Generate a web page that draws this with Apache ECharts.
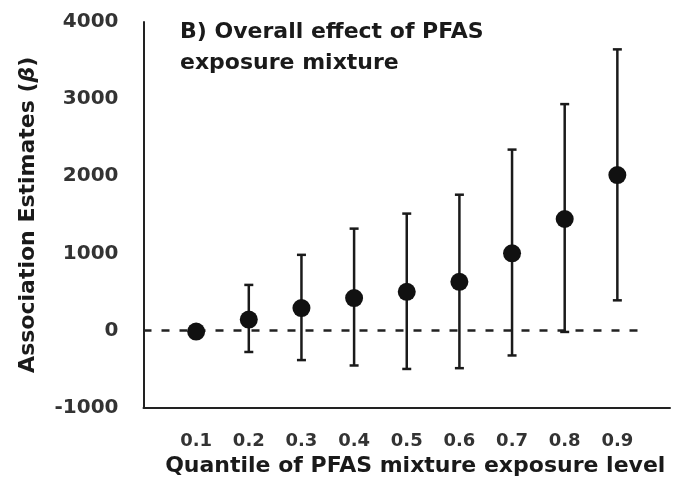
<!DOCTYPE html>
<html>
<head>
<meta charset="utf-8">
<script src="https://cdn.jsdelivr.net/npm/echarts@6/dist/echarts.min.js"></script>
<style>
html,body{margin:0;padding:0;background:#fff;}
#chart{width:675px;height:490px;}
</style>
</head>
<body>
<div id="chart"></div>
<script>
// Data
const quantiles = [0.1, 0.2, 0.3, 0.4, 0.5, 0.6, 0.7, 0.8, 0.9];
const estimates = [-15, 140, 290, 420, 500, 630, 1000, 1445, 2015];
const lowerCI   = [null, -280, -385, -455, -500, -490, -325, -20, 390];
const upperCI   = [null, 590, 980, 1320, 1515, 1760, 2345, 2935, 3645];
const yTicks = [-1000, 0, 1000, 2000, 3000, 4000];
const refLineX = [0, 0.95];
const refLineY = 0;

const FONT = 'DejaVu Sans';
const chart = echarts.init(document.getElementById('chart'), null, {renderer: 'canvas'});

const pointData = quantiles.map((q, i) => [q, estimates[i]]);
const errData = quantiles.map((q, i) => [q, lowerCI[i], upperCI[i]])
  .filter(d => d[1] !== null && d[2] !== null);

const titleStyle = {fontFamily: FONT, fontWeight: 'bold', fontSize: 22, color: '#1a1a1a'};

chart.setOption({
  animation: false,
  backgroundColor: '#fff',
  grid: {left: 143.5, right: 5, top: 22, bottom: 82.5, containLabel: false},
  graphic: [{
    type: 'text', left: 180, top: 17,
    style: {
      text: 'B) Overall effect of PFAS\nexposure mixture',
      font: 'bold 22px "' + FONT + '"',
      fill: '#1a1a1a', lineHeight: 31
    }
  }],
  xAxis: {
    type: 'value', min: 0, max: 1, interval: 0.1,
    name: 'Quantile of PFAS mixture exposure level',
    nameLocation: 'middle', nameGap: 46,
    nameTextStyle: Object.assign({padding: [0, 0, 0, 17]}, titleStyle),
    axisLine: {show: true, onZero: false, lineStyle: {color: '#222', width: 2}},
    axisTick: {show: false},
    splitLine: {show: false},
    axisLabel: {
      margin: 25, fontFamily: FONT, fontWeight: 'bold', fontSize: 18, color: '#333',
      formatter: v => {
        const r = Math.round(v * 10) / 10;
        return quantiles.indexOf(r) >= 0 ? r.toFixed(1) : '';
      }
    }
  },
  yAxis: {
    type: 'value', min: yTicks[0], max: yTicks[yTicks.length - 1], interval: 1000,
    name: 'Association Estimates ({b|\u03B2})',
    nameLocation: 'middle', nameGap: 104, nameRotate: 90,
    nameTextStyle: Object.assign({
      rich: {b: Object.assign({fontStyle: 'italic'}, titleStyle)}
    }, titleStyle),
    axisLine: {show: true, onZero: false, lineStyle: {color: '#222', width: 2}},
    axisTick: {show: false},
    splitLine: {show: false},
    axisLabel: {
      margin: 25, fontFamily: FONT, fontWeight: 'bold', fontSize: 20, color: '#333',
      formatter: v => String(v)
    }
  },
  series: [
    {
      type: 'line',
      data: refLineX.map(x => [x, refLineY]),
      symbol: 'none', silent: true, z: 1,
      lineStyle: {color: '#222', width: 2.5, type: [8, 10]}
    },
    {
      type: 'custom',
      data: errData, z: 2,
      renderItem: (params, api) => {
        const x = api.value(0);
        const lo = api.coord([x, api.value(1)]);
        const hi = api.coord([x, api.value(2)]);
        const cw = 4.5;
        const st = {stroke: '#1a1a1a', lineWidth: 2.5};
        return {
          type: 'group',
          children: [
            {type: 'line', shape: {x1: lo[0], y1: lo[1], x2: hi[0], y2: hi[1]}, style: st},
            {type: 'line', shape: {x1: lo[0] - cw, y1: lo[1], x2: lo[0] + cw, y2: lo[1]}, style: st},
            {type: 'line', shape: {x1: hi[0] - cw, y1: hi[1], x2: hi[0] + cw, y2: hi[1]}, style: st}
          ]
        };
      }
    },
    {
      type: 'scatter',
      data: pointData, z: 3,
      symbol: 'circle', symbolSize: 18,
      itemStyle: {color: '#111', opacity: 1}
    }
  ]
});
</script>
</body>
</html>
